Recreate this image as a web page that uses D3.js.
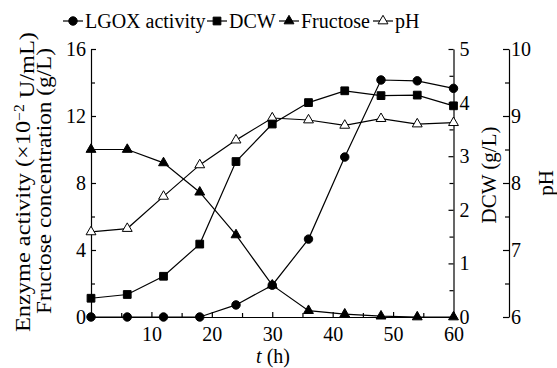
<!DOCTYPE html>
<html>
<head>
<meta charset="utf-8">
<script src="https://cdn.jsdelivr.net/npm/d3@7"></script>
<style>
  body { margin: 0; background: #fff; }
  svg { display: block; }
</style>
</head>
<body>
<svg id="chart" width="557" height="368"></svg>
<script>
(function () {

    // sampling times (h)
    var hours = [0, 6, 12, 18, 24, 30, 36, 42, 48, 54, 60];
    var lgox = [0, 0, 0, 0, 0.72, 1.9, 4.65, 9.55, 14.15, 14.1, 13.65];      // x10^-2 U/mL (left)
    var fructose = [10, 10, 9.2, 7.45, 4.9, 1.9, 0.38, 0.17, 0.05, 0, 0];    // g/L (left)
    var dcw = [0.35, 0.42, 0.76, 1.36, 2.9, 3.6, 4.0, 4.22, 4.13, 4.14, 3.94]; // g/L (right)
    var ph = [7.27, 7.32, 7.8, 8.27, 8.64, 8.97, 8.94, 8.86, 8.96, 8.88, 8.9]; // pH (far right)

    var xTicks = [10, 20, 30, 40, 50, 60];
    var leftTicks = [0, 4, 8, 12, 16];
    var dcwTicks = [0, 1, 2, 3, 4, 5];
    var phTicks = [6, 7, 8, 9, 10];
    var legendNames = ["LGOX activity", "DCW", "Fructose", "pH"];

    var svg = d3.select("#chart");
    var serif = "'Liberation Serif', 'DejaVu Serif', 'Times New Roman', Times, serif";
    var fontSize = 20;
    var x0 = 91, x1 = 453.5, yBottom = 317, yTop = 49;
    var dcwAxisX = 453.5, phAxisX = 509;
    var legendStarts = [63, 207, 279, 373];

    var x = d3.scaleLinear().domain([0, 60]).range([x0, x1]);
    var yLeft = d3.scaleLinear().domain([0, 16]).range([yBottom, yTop]);
    var yDcw = d3.scaleLinear().domain([0, 5]).range([yBottom, yTop]);
    var yPh = d3.scaleLinear().domain([6, 10]).range([yBottom, yTop]);
    var intFmt = d3.format("d");

    function styleAxis(g) {
        g.attr("font-family", serif).attr("font-size", fontSize);
        g.select(".domain").attr("stroke", "#000").attr("stroke-width", 1.2);
        g.selectAll(".tick line").attr("stroke", "#000").attr("stroke-width", 1.2);
        g.selectAll("text").attr("fill", "#000");
    }

    function minorAxis(axis, values, tx, ty) {
        var g = svg.append("g")
            .attr("transform", "translate(" + tx + "," + ty + ")")
            .call(axis.tickValues(values).tickSize(-4).tickFormat(""));
        g.select(".domain").remove();
        g.selectAll(".tick line").attr("stroke", "#000").attr("stroke-width", 1.2);
    }

    function label(tx, ty, rot, size) {
        return svg.append("text")
            .attr("transform", "translate(" + tx + "," + ty + ")" + (rot ? " rotate(-90)" : ""))
            .attr("text-anchor", "middle")
            .attr("font-family", serif)
            .attr("font-size", size || fontSize);
    }

    // x axis
    minorAxis(d3.axisBottom(x), [5, 15, 25, 35, 45, 55], 0, yBottom);
    var gx = svg.append("g")
        .attr("transform", "translate(0," + yBottom + ")")
        .call(d3.axisBottom(x).tickValues(xTicks).tickFormat(intFmt)
            .tickSize(-5).tickSizeOuter(0).tickPadding(10));
    styleAxis(gx);

    // left axis
    minorAxis(d3.axisLeft(yLeft), [2, 6, 10, 14], x0, 0);
    var gl = svg.append("g")
        .attr("transform", "translate(" + x0 + ",0)")
        .call(d3.axisLeft(yLeft).tickValues(leftTicks).tickFormat(intFmt)
            .tickSize(-5).tickSizeOuter(0).tickPadding(5));
    styleAxis(gl);

    // DCW axis
    minorAxis(d3.axisRight(yDcw), [0.5, 1.5, 2.5, 3.5, 4.5], dcwAxisX, 0);
    var gd = svg.append("g")
        .attr("transform", "translate(" + dcwAxisX + ",0)")
        .call(d3.axisRight(yDcw).tickValues(dcwTicks).tickFormat(intFmt)
            .tickSize(-5).tickSizeOuter(0).tickPadding(6));
    styleAxis(gd);

    // pH axis
    minorAxis(d3.axisRight(yPh), [6.5, 7.5, 8.5, 9.5], phAxisX, 0);
    var gp = svg.append("g")
        .attr("transform", "translate(" + phAxisX + ",0)")
        .call(d3.axisRight(yPh).tickValues(phTicks).tickFormat(intFmt)
            .tickSize(-6).tickSizeOuter(0).tickPadding(2));
    styleAxis(gp);

    // axis titles
    var xt = label(273, 363, false);
    xt.append("tspan").attr("font-style", "italic").text("t");
    xt.append("tspan").text(" (h)");

    var e1 = label(30, 182, true, 22)
        .attr("textLength", 300)
        .attr("lengthAdjust", "spacingAndGlyphs");
    e1.append("tspan").text("Enzyme activity (\u00d710");
    e1.append("tspan").attr("dy", "-0.45em").attr("font-size", 14).text("\u22122");
    e1.append("tspan").attr("dy", "0.45em").text(" U/mL)");

    label(51, 181, true, 22)
        .attr("textLength", 266)
        .attr("lengthAdjust", "spacingAndGlyphs")
        .text("Fructose concentration (g/L)");
    label(496, 175, true, 21).text("DCW (g/L)");
    label(553, 183, true, 21).text("pH");

    // series
    var series = [
        { name: "pH", values: ph, y: yPh, shape: d3.symbolTriangle, size: 42, fill: "#fff" },
        { name: "Fructose", values: fructose, y: yLeft, shape: d3.symbolTriangle, size: 42, fill: "#000" },
        { name: "DCW", values: dcw, y: yDcw, shape: d3.symbolSquare, size: 60, fill: "#000" },
        { name: "LGOX activity", values: lgox, y: yLeft, shape: d3.symbolCircle, size: 56, fill: "#000" }
    ];

    series.forEach(function (s) {
        var line = d3.line()
            .x(function (d, i) { return x(hours[i]); })
            .y(function (d) { return s.y(d); });
        svg.append("path")
            .attr("d", line(s.values))
            .attr("fill", "none")
            .attr("stroke", "#000")
            .attr("stroke-width", 1.2);
    });

    series.forEach(function (s) {
        svg.append("g").selectAll("path")
            .data(s.values)
            .enter()
            .append("path")
            .attr("d", d3.symbol().type(s.shape).size(s.size))
            .attr("transform", function (d, i) {
                return "translate(" + x(hours[i]) + "," + s.y(d) + ")";
            })
            .attr("fill", s.fill)
            .attr("stroke", "#000")
            .attr("stroke-width", 1);
    });

    // legend
    legendNames.forEach(function (name, i) {
        var s = series.find(function (c) { return c.name === name; });
        var g = svg.append("g").attr("transform", "translate(" + legendStarts[i] + ",21)");
        g.append("line")
            .attr("x1", 0).attr("x2", 20)
            .attr("stroke", "#000").attr("stroke-width", 1.2);
        g.append("path")
            .attr("d", d3.symbol().type(s.shape).size(s.size))
            .attr("transform", "translate(10,0)")
            .attr("fill", s.fill)
            .attr("stroke", "#000")
            .attr("stroke-width", 1);
        g.append("text")
            .attr("x", 22)
            .attr("y", 7)
            .attr("font-family", serif)
            .attr("font-size", fontSize)
            .text(name);
    });

})();
</script>
</body>
</html>
